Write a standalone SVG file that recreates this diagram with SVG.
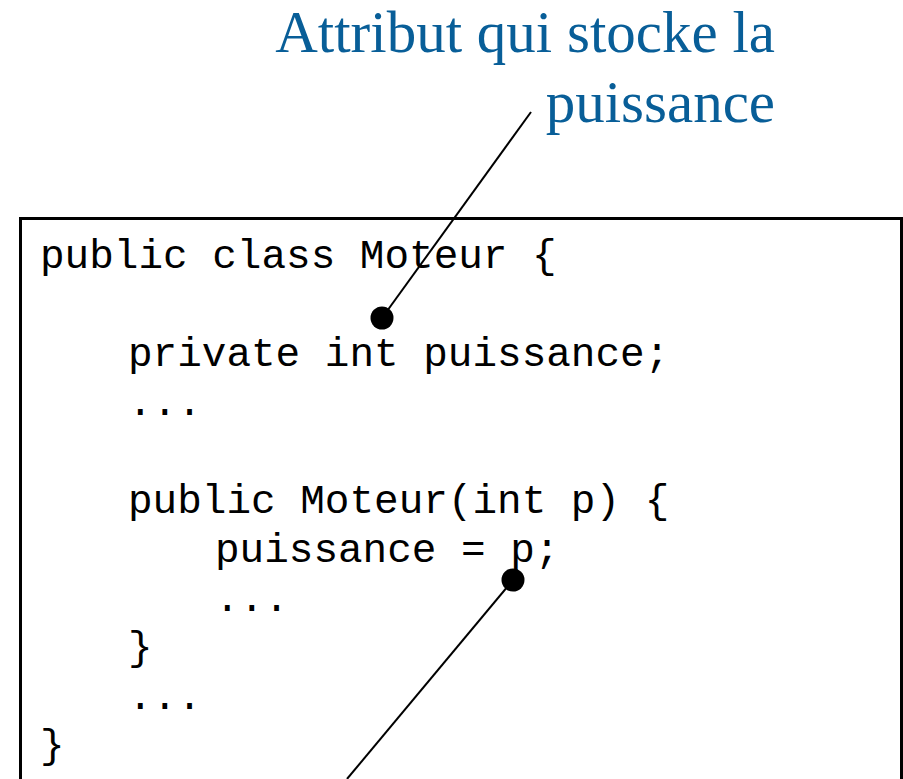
<svg xmlns="http://www.w3.org/2000/svg" width="903" height="779" viewBox="0 0 903 779">
  <defs>
    <style>
      .code { font-family: "Liberation Mono", "Courier New", monospace; font-size: 41px; fill: #000000; white-space: pre; }
      .label { font-family: "Liberation Serif", "Times New Roman", serif; font-size: 59px; fill: #085E98; text-anchor: end; }
      .frame { fill: #ffffff; stroke: #000000; stroke-width: 3; }
      .conn { stroke: #000000; stroke-width: 2; fill: none; }
      .dot { fill: #000000; }
    </style>
  </defs>
  <rect x="0" y="0" width="903" height="779" fill="#ffffff"/>

  <g id="code-box">
    <rect class="frame" x="20.5" y="218.5" width="881" height="600"/>
    <text class="code" x="40" y="268">public class Moteur {</text>
    <text class="code" x="128" y="366">private int puissance;</text>
    <text class="code" x="128" y="415">...</text>
    <text class="code" x="128" y="513">public Moteur(int p) {</text>
    <text class="code" x="215" y="562">puissance = p;</text>
    <text class="code" x="215" y="611">...</text>
    <text class="code" x="128" y="660">}</text>
    <text class="code" x="128" y="709">...</text>
    <text class="code" x="40" y="758">}</text>
  </g>

  <g id="label-attribut">
    <text class="label" x="775" y="52">Attribut qui stocke la</text>
    <text class="label" x="775" y="122">puissance</text>
  </g>

  <g id="connectors">
    <line class="conn" x1="531" y1="112" x2="382" y2="318"/>
    <circle class="dot" cx="382" cy="318" r="11.5"/>
    <line class="conn" x1="513" y1="580" x2="347" y2="779"/>
    <circle class="dot" cx="513" cy="580" r="11.5"/>
  </g>
</svg>
